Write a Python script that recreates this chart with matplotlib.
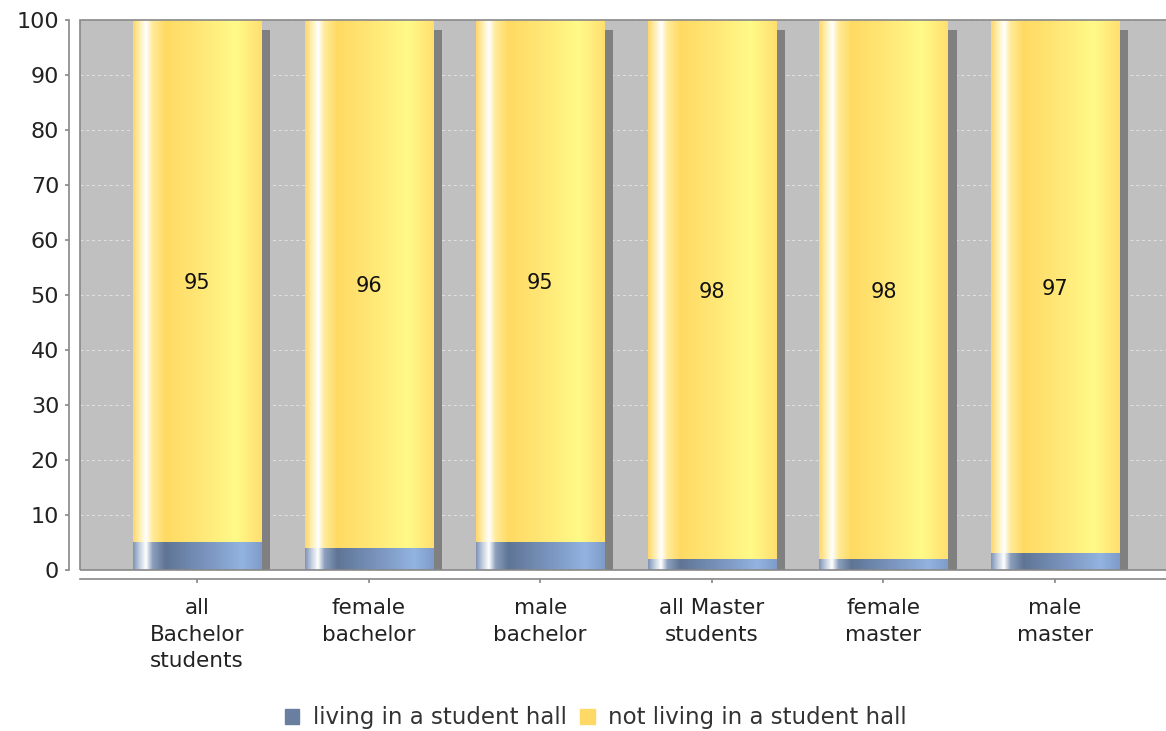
import numpy as np
import matplotlib
matplotlib.use('Agg')
import matplotlib.pyplot as plt
from matplotlib.colors import LinearSegmentedColormap
from matplotlib.patches import Rectangle

# 数据
categories = ['all\nBachelor\nstudents', 'female\nbachelor', 'male\nbachelor',
              'all Master\nstudents', 'female\nmaster', 'male\nmaster']
living = [5, 4, 5, 2, 2, 3]
not_living = [95, 96, 95, 98, 98, 97]
series_names = ['living in a student hall', 'not living in a student hall']

# 渐变色
yellow_cmap = LinearSegmentedColormap.from_list('yel', [
    (0.00, '#FFD66A'), (0.05, '#FFEFB0'), (0.10, '#FFFFFF'), (0.15, '#FFEB9A'),
    (0.25, '#FFDA63'), (0.50, '#FFE675'), (0.80, '#FFFA88'), (1.00, '#FFDF70')])
blue_cmap = LinearSegmentedColormap.from_list('blu', [
    (0.00, '#7F95B5'), (0.05, '#C5D0E0'), (0.10, '#FFFFFF'), (0.15, '#8CA0BE'),
    (0.25, '#5F7595'), (0.55, '#7893BC'), (0.85, '#93B3E0'), (1.00, '#7F9CC8')])
grad = np.linspace(0, 1, 256).reshape(1, -1)

plt.rcParams['font.family'] = ['DejaVu Sans']
fs = 16

fig = plt.figure(figsize=(11.66, 7.31), dpi=100)
ax = fig.add_axes([80 / 1166, 161 / 731, 1092 / 1166, 550 / 731])
ax.set_facecolor('#C0C0C0')

# 坐标轴线（先设置位置，否则会重置刻度标签）
for side in ['top', 'right']:
    ax.spines[side].set_visible(False)
ax.spines['left'].set_position(('outward', 8))
ax.spines['bottom'].set_position(('outward', 6.5))
for side in ['left', 'bottom']:
    ax.spines[side].set_color('#888888')
    ax.spines[side].set_linewidth(1.2)

x = np.arange(len(categories))
width = 0.746
dx, dy = 0.054, 1.82

# 阴影
totals = [a + b for a, b in zip(living, not_living)]
ax.bar(x + dx, totals, bottom=-dy, width=width, color='#808080', zorder=2)

# 渐变柱
for i in range(len(categories)):
    x0, x1 = x[i] - width / 2, x[i] + width / 2
    ax.imshow(grad, cmap=blue_cmap, extent=[x0, x1, 0, living[i]],
              aspect='auto', interpolation='bilinear', zorder=3)
    ax.imshow(grad, cmap=yellow_cmap, extent=[x0, x1, living[i], living[i] + not_living[i]],
              aspect='auto', interpolation='bilinear', zorder=3)
    ax.text(x[i], living[i] + not_living[i] / 2, str(not_living[i]),
            ha='center', va='center_baseline', fontsize=fs - 1, color='#111111', zorder=4)

ax.set_xlim(-0.682, len(categories) - 1 + 0.682)
ax.set_ylim(0, 100)
ax.set_yticks(range(0, 101, 10))
ax.tick_params(axis='y', labelsize=fs, labelcolor='#222222', length=3, width=1.2,
               color='#888888', pad=4)
ax.tick_params(axis='x', length=3, width=1.2, color='#888888', pad=11)
ax.set_xticks(x)
ax.set_xticklabels(categories, fontsize=fs - 0.5, color='#222222', linespacing=1.4)

ax.yaxis.grid(True, color='#E2E2E2', linestyle=(0, (3, 3)), linewidth=0.7)
ax.set_axisbelow(True)

ax.add_patch(Rectangle((0, 0), 1, 1, transform=ax.transAxes, fill=False,
                       edgecolor='#888888', linewidth=1.2, zorder=5, clip_on=False))

# 图例
handles = [Rectangle((0, 0), 1, 1, color='#6A7FA0'), Rectangle((0, 0), 1, 1, color='#FFD966')]
fig.legend(handles, series_names, loc='center', bbox_to_anchor=(0.511, 0.018),
           ncol=2, frameon=False, fontsize=fs + 0.5, handlelength=0.62, handleheight=0.62,
           handletextpad=0.6, columnspacing=0.6, labelcolor='#333333')

fig.savefig('out.png', dpi=100)
